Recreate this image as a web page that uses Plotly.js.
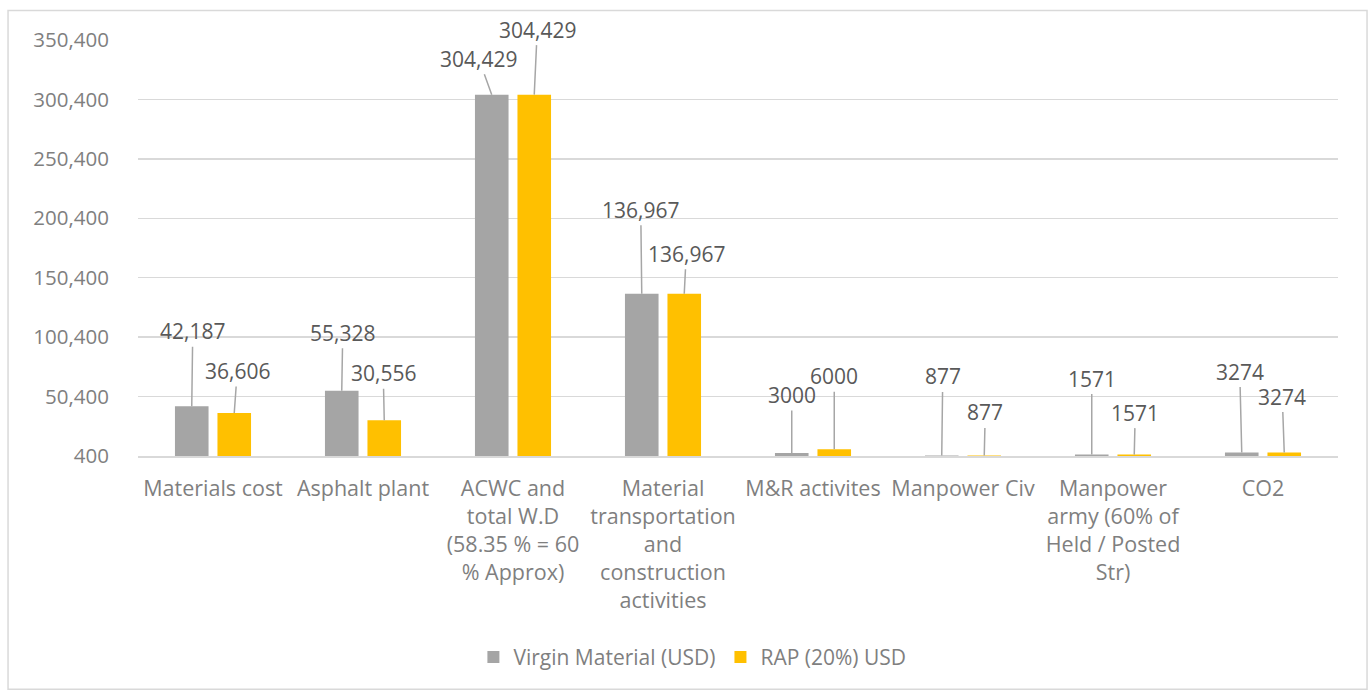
<!DOCTYPE html>
<html><head><meta charset="utf-8">
<script src="https://cdn.plot.ly/plotly-3.0.1.min.js"></script>
<style>html,body{margin:0;padding:0;background:#fff;} #chart{width:1370px;height:691px;}</style>
</head><body><div id="chart"></div>
<script>
// ---- data ----
const categories = [
  "Materials cost",
  "Asphalt plant",
  "ACWC and<br>total W.D<br>(58.35 % = 60<br>% Approx)",
  "Material<br>transportation<br>and<br>construction<br>activities",
  "M&R activites",
  "Manpower Civ",
  "Manpower<br>army (60% of<br>Held / Posted<br>Str)",
  "CO2"
];
const virginMaterial = [42187, 55328, 304429, 136967, 3000, 877, 1571, 3274];
const rap20 = [36606, 30556, 304429, 136967, 6000, 877, 1571, 3274];
const seriesNames = ["Virgin Material (USD)", "RAP (20%) USD"];
const yTickVals = [400, 50400, 100400, 150400, 200400, 250400, 300400, 350400];

// ---- label placement (pixel offsets of callouts from bar tops) ----
const grayDX = [1, 1, -13, -1, 0, 1, 0, -2];
const grayDY = [-75, -58, -36, -84, -58, -79, -76, -81];
const yelDX = [3, -1, 3, 2, 0, 1, 1, -2];
const yelDY = [-42, -47, -65, -40, -73, -43, -42, -56];

const FONT = "'Open Sans', 'Noto Sans', sans-serif";
const GRAY = "#a5a5a5", YEL = "#ffc000";
const bargap = 0.4333, bargroupgap = 0.21;
const half = (1 - bargap) / 4;

function fmt(v) { return v >= 10000 ? v.toLocaleString('en-US') : String(v); }

const traces = [
  {type: 'bar', x: categories, y: virginMaterial, name: seriesNames[0],
   marker: {color: GRAY}, hoverinfo: 'skip'},
  {type: 'bar', x: categories, y: rap20, name: seriesNames[1],
   marker: {color: YEL}, hoverinfo: 'skip'}
];

const annotations = [];
function addLabels(vals, dx, dy, shift) {
  vals.forEach((v, i) => {
    annotations.push({
      x: i + shift, y: v, xref: 'x', yref: 'y',
      text: fmt(v), showarrow: true, arrowhead: 0, arrowwidth: 1.5,
      arrowcolor: '#a6a6a6', standoff: 0, ax: dx[i], ay: dy[i],
      font: {family: FONT, size: 21, color: '#595959'}
    });
  });
}
addLabels(virginMaterial, grayDX, grayDY, -half);
addLabels(rap20, yelDX, yelDY, half);

const layout = {
  width: 1370, height: 691,
  margin: {l: 138, r: 32, t: 40, b: 235},
  paper_bgcolor: '#fff', plot_bgcolor: '#fff',
  font: {family: FONT, color: '#7f7f7f'},
  barmode: 'group', bargap: bargap, bargroupgap: bargroupgap,
  showlegend: true,
  legend: {orientation: 'h', x: 0.462, xanchor: 'center', y: -0.484, yanchor: 'middle',
           font: {family: FONT, size: 21, color: '#7f7f7f'}},
  xaxis: {type: 'category', tickangle: 0, automargin: false, showgrid: false,
          showline: true, linecolor: '#d9d9d9', linewidth: 1.5, ticks: '',
          ticklabelstandoff: 13,
          tickfont: {family: FONT, size: 21.5, color: '#7f7f7f'}},
  yaxis: {range: [400, 350400], tickvals: yTickVals, tickformat: ',d', automargin: false,
          showgrid: true, gridcolor: '#d9d9d9', gridwidth: 1.5, zeroline: false,
          showline: false, ticks: '', ticklabelstandoff: 28,
          tickfont: {family: FONT, size: 20.5, color: '#7f7f7f'}},
  annotations: annotations,
  shapes: [{type: 'rect', xref: 'paper', yref: 'paper',
            x0: -0.1083, x1: 1.0242, y0: -0.5606, y1: 1.0708,
            line: {color: '#d9d9d9', width: 1.5}, layer: 'below'}]
};

Plotly.newPlot('chart', traces, layout, {staticPlot: true, displayModeBar: false});
</script>
</body></html>
